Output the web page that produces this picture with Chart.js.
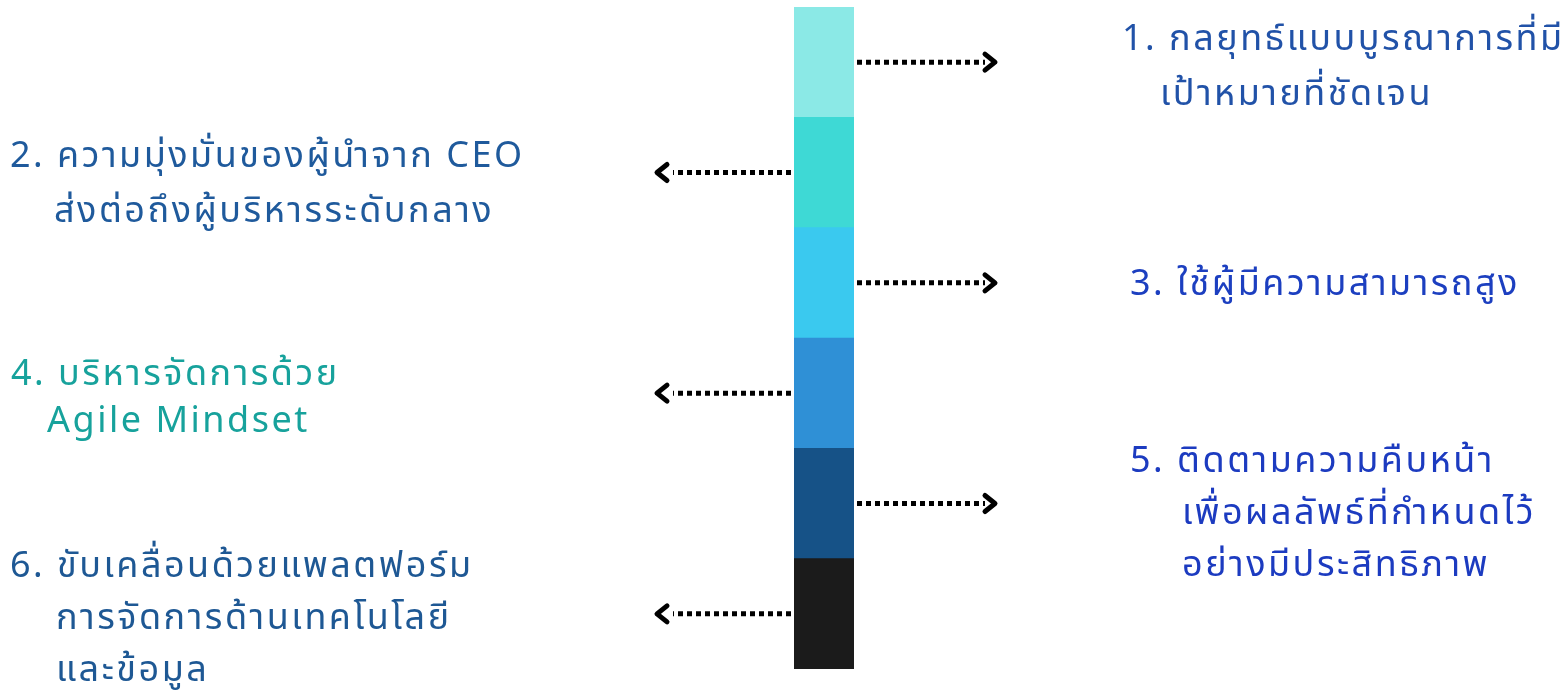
<!DOCTYPE html>
<html>
<head>
<meta charset="utf-8">
<script src="https://cdn.jsdelivr.net/npm/chart.js@4"></script>
<style>
  html, body { margin: 0; padding: 0; background: #fff; }
  #wrap { width: 1567px; height: 691px; }
</style>
</head>
<body>
<div id="wrap"><canvas id="steps"></canvas></div>
<script>
// six equal steps, listed top to bottom
const stepNames = ['1', '2', '3', '4', '5', '6']
const stepValues = [1, 1, 1, 1, 1, 1]
const stepColors = ['#8be9e6', '#3ed9d5', '#3ac9ef', '#2f90d6', '#165287', '#1b1b1b']
const stepLabels = [
    ['1. กลยุทธ์แบบบูรณาการที่มี', 'เป้าหมายที่ชัดเจน'],
    ['2. ความมุ่งมั่นของผู้นำจาก CEO', 'ส่งต่อถึงผู้บริหารระดับกลาง'],
    ['3. ใช้ผู้มีความสามารถสูง'],
    ['4. บริหารจัดการด้วย', 'Agile Mindset'],
    ['5. ติดตามความคืบหน้า', 'เพื่อผลลัพธ์ที่กำหนดไว้', 'อย่างมีประสิทธิภาพ'],
    ['6. ขับเคลื่อนด้วยแพลตฟอร์ม', 'การจัดการด้านเทคโนโลยี', 'และข้อมูล']
]
const labelColors = ['#2152a8', '#1f5a9c', '#1c3fc0', '#17a29c', '#1c3bc0', '#1e5894']

// where each label sits (first-line x, indent x, first baseline, line gap)
const labelLayout = [
    { x: 1122, indent: 1160, y: 50,  gap: 55 },
    { x: 10,   indent: 54,   y: 167, gap: 55 },
    { x: 1130, indent: 1130, y: 295, gap: 55 },
    { x: 11,   indent: 47,   y: 385, gap: 47 },
    { x: 1130, indent: 1182, y: 472, gap: 52 },
    { x: 10,   indent: 56,   y: 577, gap: 52 }
]

const arrowsAndLabels = {
    id: 'arrowsAndLabels',
    afterDatasetsDraw(chart) {
        const ctx = chart.ctx
        ctx.save()
        stepNames.forEach((name, i) => {
            const dsIndex = stepNames.length - 1 - i
            const bar = chart.getDatasetMeta(dsIndex).data[0]
            const cy = (bar.y + bar.base) / 2
            const left = bar.x - bar.width / 2
            const right = bar.x + bar.width / 2
            const toRight = i % 2 === 0

            // dotted shaft
            ctx.strokeStyle = '#000'
            ctx.lineWidth = 5
            ctx.lineCap = 'butt'
            ctx.setLineDash([5, 4])
            ctx.beginPath()
            if (toRight) {
                ctx.moveTo(right + 3, cy)
                ctx.lineTo(right + 131, cy)
            } else {
                ctx.moveTo(left - 3, cy)
                ctx.lineTo(left - 121, cy)
            }
            ctx.stroke()

            // arrow head
            ctx.setLineDash([])
            ctx.lineWidth = 5
            ctx.lineCap = 'round'
            ctx.lineJoin = 'round'
            ctx.beginPath()
            const tip = toRight ? right + 141 : left - 137
            const back = toRight ? -10 : 10
            ctx.moveTo(tip + back, cy - 8)
            ctx.lineTo(tip, cy)
            ctx.lineTo(tip + back, cy + 8)
            ctx.stroke()

            // label text
            const lay = labelLayout[i]
            ctx.fillStyle = labelColors[i]
            ctx.font = '36px "Noto Sans", "Noto Sans Thai", "Open Sans", sans-serif'
            ctx.letterSpacing = '2.5px'
            ctx.textAlign = 'left'
            ctx.textBaseline = 'alphabetic'
            stepLabels[i].forEach((line, j) => {
                ctx.fillText(line, j === 0 ? lay.x : lay.indent, lay.y + j * lay.gap)
            })
        })
        ctx.restore()
    }
}

const datasets = stepNames.map((name, i) => ({
    label: name,
    data: [stepValues[i]],
    backgroundColor: stepColors[i],
    borderWidth: 0
})).reverse()

new Chart(document.getElementById('steps'), {
    type: 'bar',
    data: { labels: [''], datasets: datasets },
    options: {
        responsive: true,
        maintainAspectRatio: false,
        animation: false,
        categoryPercentage: 1,
        barPercentage: 1,
        layout: { padding: { left: 794, right: 713, top: 7, bottom: 22 } },
        scales: {
            x: { stacked: true, display: false },
            y: { stacked: true, display: false, min: 0, max: 6 }
        },
        plugins: {
            legend: { display: false },
            tooltip: { enabled: false }
        }
    },
    plugins: [arrowsAndLabels]
})
</script>
</body>
</html>
